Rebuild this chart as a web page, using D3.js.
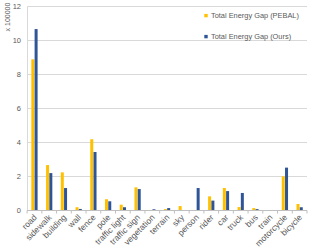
<!DOCTYPE html>
<html><head><meta charset="utf-8">
<script src="https://cdn.jsdelivr.net/npm/d3@7"></script>
<style>body{margin:0;background:#fff}text{font-family:"Liberation Sans",Arial,sans-serif;fill:#595959}</style>
</head><body><svg id="c" width="312" height="250"></svg>
<script>
const categories=["road","sidewalk","building","wall","fence","pole","traffic light","traffic sign","vegetation","terrain","sky","person","rider","car","truck","bus","train","motorcycle","bicycle"];
const pebal=[8.88,2.66,2.23,0.18,4.18,0.65,0.33,1.35,0.02,0.07,0.25,0.02,0.82,1.31,0.19,0.13,0,2.0,0.37];
const ours=[10.66,2.19,1.31,0.08,3.43,0.53,0.18,1.25,0.06,0.13,0,1.31,0.57,1.13,1.02,0.07,0,2.51,0.18];
const yTicks=[0,2,4,6,8,10,12];
const seriesNames=["Total Energy Gap (PEBAL)","Total Energy Gap (Ours)"];
const colors=["#FFC000","#2F5597"];

const svg=d3.select("#c");
const x=d3.scaleBand().domain(categories).range([27.1,307]);
const y=d3.scaleLinear().domain([0,12]).range([210.3,6.3]);
const inner=d3.scaleBand().domain([0,1]).range([0,x.bandwidth()]).paddingInner(0.08).paddingOuter(1.3);

// gridlines
svg.append("g").selectAll("line").data(yTicks.filter(d=>d>0)).join("line")
 .attr("x1",27.5).attr("x2",307).attr("y1",d=>Math.round(y(d))+0.5).attr("y2",d=>Math.round(y(d))+0.5)
 .attr("stroke","#d9d9d9").attr("stroke-width",1);
// y axis line
svg.append("line").attr("x1",27.5).attr("x2",27.5).attr("y1",y(12)).attr("y2",y(0)).attr("stroke","#d9d9d9");
// y tick labels
svg.append("g").selectAll("text").data(yTicks).join("text")
 .attr("x",21).attr("y",d=>y(d)+2.8).attr("text-anchor","end").attr("font-size",7.5).text(d=>d);
svg.append("text").attr("transform","translate(10,17) rotate(-90)").attr("text-anchor","middle").attr("font-size",7).text("x 100000");

// bars
const data=[pebal,ours];
data.forEach((vals,si)=>{
 svg.append("g").selectAll("rect").data(categories).join("rect")
  .attr("x",(c)=>x(c)+inner(si)).attr("width",inner.bandwidth())
  .attr("y",(c,i)=>y(vals[i])).attr("height",(c,i)=>y(0)-y(vals[i]))
  .attr("fill",colors[si]);
});

// x axis
const xa=svg.append("g").attr("transform",`translate(0,${Math.round(y(0))+0.5})`);
xa.append("line").attr("x1",27.1).attr("x2",307).attr("stroke","#bfbfbf");
xa.selectAll("line.t").data(categories.concat(["__end"])).join("line").attr("class","t")
 .attr("x1",(c,i)=>x.range()[0]+i*x.step()).attr("x2",(c,i)=>x.range()[0]+i*x.step())
 .attr("y1",0).attr("y2",3).attr("stroke","#bfbfbf");
xa.selectAll("text").data(categories).join("text")
 .attr("transform",c=>`translate(${x(c)+x.bandwidth()/2+3},7.5) rotate(-45)`)
 .attr("text-anchor","end").attr("font-size",8.5).text(c=>c);

// legend
const lg=svg.append("g");
seriesNames.forEach((n,i)=>{
 const yy=15.7+i*21;
 lg.append("rect").attr("x",204.3).attr("y",yy-1.8).attr("width",3.4).attr("height",3.4).attr("fill",colors[i]);
 lg.append("text").attr("x",211).attr("y",yy+2.6).attr("font-size",7.4).text(n);
});
</script></body></html>
